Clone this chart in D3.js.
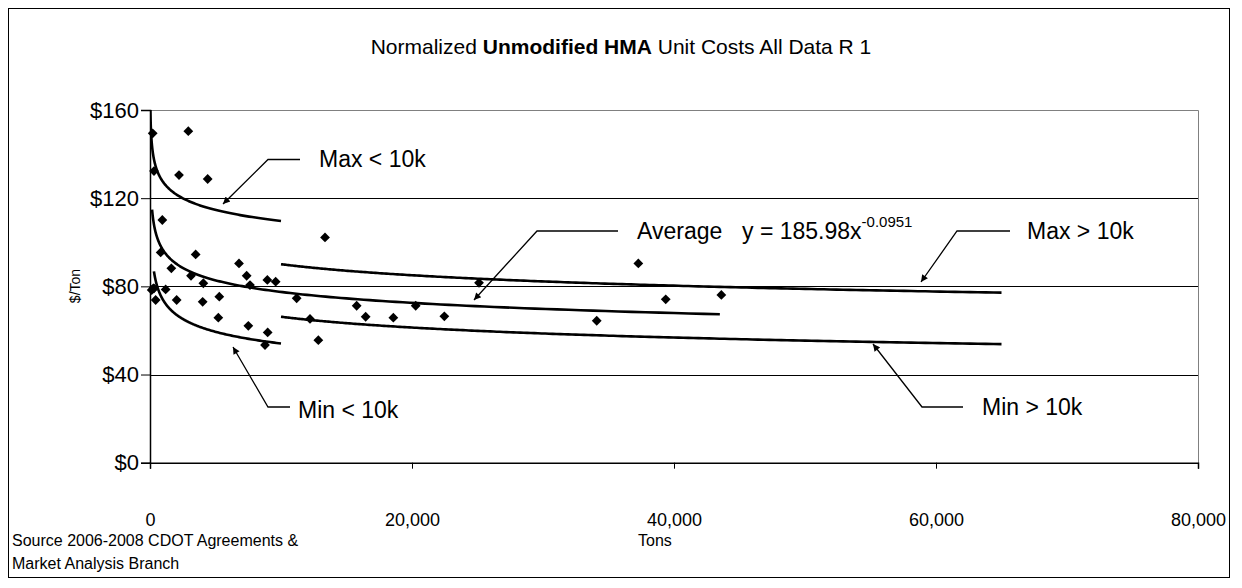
<!DOCTYPE html>
<html>
<head>
<meta charset="utf-8">
<script src="https://cdn.jsdelivr.net/npm/d3@7"></script>
<style>
  body { margin: 0; background: #fff; }
  svg { display: block; font-family: Arial, "Liberation Sans", sans-serif; }
</style>
</head>
<body>
<svg id="chart" width="1242" height="588"></svg>
<script>
// ----- data -----
const tons = [130, 206, 254, 305, 305, 433, 815, 941, 1196, 1629, 2036, 2214, 2925, 3130, 3486,
  4021, 4072, 4403, 5216, 5291, 6794, 7379, 7506, 7634, 8779, 8957, 8983, 9593, 11197, 12214,
  12850, 13360, 15776, 16463, 18575, 20282, 22470, 25116, 34101, 37277, 39369, 43614];
const costs = [78.3, 149.4, 79.1, 132.3, 79.1, 73.8, 95.4, 110.1, 78.6, 88.2, 73.8, 130.5, 150.4, 84.8, 94.5,
  73.0, 81.4, 128.7, 65.8, 75.3, 90.4, 84.8, 62.1, 80.6, 53.4, 82.9, 59.1, 82.1, 74.6, 65.2,
  55.6, 102.2, 71.2, 66.2, 65.8, 71.2, 66.4, 81.6, 64.4, 90.4, 74.1, 76.1];

// power trend lines  y = a * x^b
const trendNames = ["Max < 10k", "Average", "Min < 10k", "Max > 10k", "Min > 10k"];
const trendCoef = [199.5, 185.98, 187.5, 192.7, 183.7];
const trendExp = [-0.065, -0.0951, -0.135, -0.0826, -0.1108];
const trendFrom = [20, 160, 300, 10000, 10000];
const trendTo = [10000, 43500, 10000, 65000, 65000];

const xTicks = [0, 20000, 40000, 60000, 80000];
const yTicks = [0, 40, 80, 120, 160];

// ----- layout -----
const svg = d3.select("#chart");
const x = d3.scaleLinear().domain([0, 80000]).range([150, 1198]);
const y = d3.scaleLinear().domain([0, 160]).range([462.7, 110]);

// outer frame
svg.append("rect")
  .attr("x", 8.5).attr("y", 8.5).attr("width", 1221).attr("height", 569)
  .attr("fill", "#fff").attr("stroke", "#000");

// title
const title = svg.append("text")
  .attr("x", 621).attr("y", 54).attr("text-anchor", "middle")
  .style("font-size", "21px");
title.append("tspan").text("Normalized ");
title.append("tspan").attr("font-weight", "bold").text("Unmodified HMA");
title.append("tspan").text(" Unit Costs All Data R 1");

// gridlines
svg.append("g").selectAll("line")
  .data(yTicks.filter(d => d > 0 && d < 160))
  .enter().append("line")
  .attr("x1", x(0)).attr("x2", x(80000))
  .attr("y1", d => Math.round(y(d)) + 0.5).attr("y2", d => Math.round(y(d)) + 0.5)
  .attr("stroke", "#000");

// plot area border (top / right)
svg.append("path")
  .attr("d", `M${x(0)},${Math.round(y(160)) + 0.5}H${Math.round(x(80000)) + 0.5}V${y(0)}`)
  .attr("fill", "none").attr("stroke", "#808080");

// axes
const yAxis = svg.append("g")
  .attr("transform", `translate(${x(0)},0)`)
  .call(d3.axisLeft(y).tickValues(yTicks).tickSize(9).tickFormat(d => "$" + d));
yAxis.select(".domain").attr("stroke-width", 1.5);
yAxis.selectAll("text").style("font-size", "22px").attr("x", -11).attr("font-family", "inherit");

const xAxis = svg.append("g")
  .attr("transform", `translate(0,${y(0)})`)
  .call(d3.axisBottom(x).tickValues(xTicks).tickSize(6).tickFormat(d3.format(",")));
xAxis.select(".domain").attr("stroke-width", 1.5);
xAxis.selectAll("text").style("font-size", "18px").attr("y", 63).attr("dy", 0).attr("font-family", "inherit");

// axis titles and notes
svg.append("text")
  .attr("transform", "translate(80,286) rotate(-90)")
  .attr("text-anchor", "middle").style("font-size", "14px").text("$/Ton");
svg.append("text").attr("x", 638).attr("y", 546).style("font-size", "16px").text("Tons");
svg.append("text").attr("x", 12).attr("y", 546).style("font-size", "16px")
  .text("Source 2006-2008 CDOT Agreements &");
svg.append("text").attr("x", 12).attr("y", 569).style("font-size", "16px")
  .text("Market Analysis Branch");

// clip for the curves
svg.append("clipPath").attr("id", "plotClip")
  .append("rect").attr("x", x(0)).attr("y", y(160))
  .attr("width", x(80000) - x(0)).attr("height", y(0) - y(160));

const line = d3.line().x(d => x(d[0])).y(d => y(d[1]));
const curveGroup = svg.append("g").attr("clip-path", "url(#plotClip)");
trendNames.forEach((name, i) => {
  const pts = d3.range(0, 201).map(k => {
    const t = Math.exp(Math.log(trendFrom[i]) + (Math.log(trendTo[i]) - Math.log(trendFrom[i])) * k / 200);
    return [t, trendCoef[i] * Math.pow(t, trendExp[i])];
  });
  curveGroup.append("path")
    .attr("d", line(pts))
    .attr("fill", "none").attr("stroke", "#000").attr("stroke-width", 2.6);
});

// points
svg.append("g").selectAll("path")
  .data(tons.map((t, i) => [t, costs[i]]))
  .enter().append("path")
  .attr("d", d3.symbol(d3.symbolSquare, 48))
  .attr("transform", d => `translate(${x(d[0])},${y(d[1])}) rotate(45)`)
  .attr("fill", "#000");

// annotations with leader arrows
svg.append("defs").append("marker")
  .attr("id", "arrow").attr("viewBox", "0 0 10 10").attr("refX", 10).attr("refY", 5)
  .attr("markerWidth", 9).attr("markerHeight", 7).attr("orient", "auto")
  .attr("markerUnits", "userSpaceOnUse")
  .append("path").attr("d", "M0,0L10,5L0,10z").attr("fill", "#000");

const notes = [
  { label: "Max < 10k", tx: 319, ty: 167, path: [[300, 159.5], [268, 159.5], [223, 204]] },
  { label: "Average", tx: 637, ty: 239, path: [[618, 231], [537, 231], [474, 300]] },
  { label: "Max > 10k", tx: 1027, ty: 239, path: [[1010, 231], [957, 231], [921, 282]] },
  { label: "Min < 10k", tx: 298, ty: 418, path: [[290, 407], [268, 407], [233, 347]] },
  { label: "Min > 10k", tx: 982, ty: 415, path: [[963, 407], [922, 407], [873, 344]] }
];
notes.forEach(n => {
  svg.append("path")
    .attr("d", d3.line()(n.path))
    .attr("fill", "none").attr("stroke", "#000").attr("stroke-width", 1.3)
    .attr("marker-end", "url(#arrow)");
  svg.append("text").attr("x", n.tx).attr("y", n.ty).style("font-size", "23px").text(n.label);
});

// trend equation
const eq = svg.append("text").attr("x", 742).attr("y", 239).style("font-size", "23px");
eq.append("tspan").text("y = 185.98x");
eq.append("tspan").attr("dy", -12).style("font-size", "15px").text("-0.0951");
</script>
</body>
</html>
